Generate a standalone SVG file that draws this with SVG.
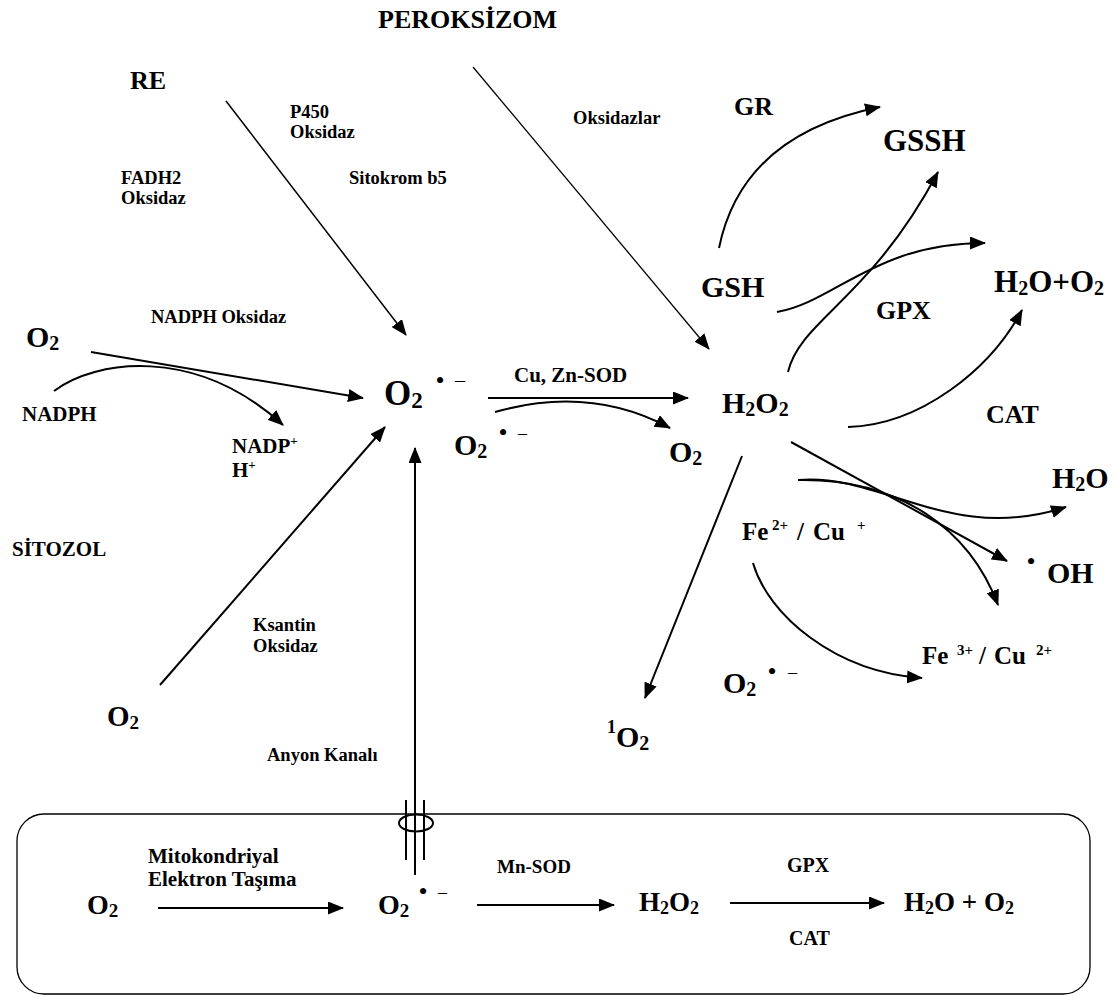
<svg xmlns="http://www.w3.org/2000/svg" width="1117" height="996" viewBox="0 0 1117 996">
<defs>
<style>
.t{font-family:"Liberation Serif","Times New Roman",serif;font-weight:bold;fill:#000}
.n{font-family:"Liberation Serif","Times New Roman",serif;font-weight:normal;fill:#000}
.d{font-family:"Liberation Serif","Times New Roman",serif;font-weight:normal;fill:#000;font-size:26px;text-anchor:middle}
.c{stroke:#000;fill:none;stroke-width:2}
.thin{stroke-width:1.5}
</style>
<marker id="ah" markerWidth="16" markerHeight="13" refX="15" refY="6.5" orient="auto" markerUnits="userSpaceOnUse"><path d="M0,0 L16,6.5 L0,13 z" fill="#000"/></marker>
</defs>
<rect width="1117" height="996" fill="#fff"/>

<g id="connectors">
<line class="c thin" x1="226" y1="101" x2="406" y2="335" marker-end="url(#ah)"/>
<line class="c" style="stroke-width:1.3" x1="473" y1="67" x2="709" y2="349" marker-end="url(#ah)"/>
<line class="c" x1="91" y1="352" x2="363" y2="398" marker-end="url(#ah)"/>
<path class="c" d="M54,391 C95,360 195,345 283,425" marker-end="url(#ah)"/>
<line class="c" x1="160" y1="685" x2="385" y2="427" marker-end="url(#ah)"/>
<line class="c" x1="415" y1="875" x2="415" y2="448" marker-end="url(#ah)"/>
<line class="c" x1="406" y1="800" x2="406" y2="860"/>
<line class="c" x1="424" y1="800" x2="424" y2="860"/>
<ellipse class="c" cx="416" cy="823" rx="17" ry="8.5"/>
<line class="c" x1="488" y1="398" x2="688" y2="398" marker-end="url(#ah)"/>
<path class="c" d="M495,412 Q590,385 670,428" marker-end="url(#ah)"/>
<path class="c" d="M719,248 C735,170 790,125 880,107" marker-end="url(#ah)"/>
<path class="c" d="M777,312 C835,302 875,243 985,243" marker-end="url(#ah)"/>
<path class="c" d="M788,372 C800,320 870,300 938,172" marker-end="url(#ah)"/>
<path class="c" d="M848,427 C920,425 990,370 1022,310" marker-end="url(#ah)"/>
<line class="c" x1="742" y1="456" x2="645" y2="698" marker-end="url(#ah)"/>
<line class="c" x1="791" y1="442" x2="1007" y2="561" marker-end="url(#ah)"/>
<path class="c" d="M798,480 C880,472 950,545 1066,507" marker-end="url(#ah)"/>
<path class="c" d="M798,480 C900,478 970,530 998,605" marker-end="url(#ah)"/>
<path class="c" d="M753,563 C768,615 835,672 922,678" marker-end="url(#ah)"/>
<rect class="c" style="stroke-width:1.3" x="17" y="814" width="1073" height="180" rx="27" ry="27"/>
<line class="c" x1="158" y1="908" x2="343" y2="908" marker-end="url(#ah)"/>
<line class="c" x1="477" y1="905" x2="614" y2="905" marker-end="url(#ah)"/>
<line class="c" x1="730" y1="903" x2="884" y2="903" marker-end="url(#ah)"/>
</g>

<g id="peroksizom"><text class="t" x="378" y="28" font-size="26">PEROKSİZOM</text></g>
<g id="re"><text class="t" x="130" y="89" font-size="26">RE</text></g>
<g id="p450"><text class="t" x="290" y="118" font-size="18.5">P450</text><text class="t" x="290" y="138" font-size="18.5">Oksidaz</text></g>
<g id="oksidazlar"><text class="t" x="573" y="124" font-size="18.5">Oksidazlar</text></g>
<g id="fadh2"><text class="t" x="121" y="184" font-size="18.5">FADH2</text><text class="t" x="121" y="204" font-size="18.5">Oksidaz</text></g>
<g id="sitokrom"><text class="t" x="349" y="184" font-size="18.5">Sitokrom b5</text></g>
<g id="nadph-oksidaz"><text class="t" x="151" y="323" font-size="18.5">NADPH Oksidaz</text></g>
<g id="o2-topleft"><text class="t" x="26" y="347" font-size="30">O<tspan font-size="20" dy="3">2</tspan></text></g>
<g id="nadph"><text class="t" x="22" y="421" font-size="21">NADPH</text></g>
<g id="nadp"><text class="t" x="232" y="453" font-size="21">NADP<tspan font-size="13" dy="-8">+</tspan></text><text class="t" x="232" y="477" font-size="21">H<tspan font-size="13" dy="-8">+</tspan></text></g>
<g id="superoxide-center"><text class="d" x="440" y="389">•</text><text class="t" x="384" y="405" font-size="35">O<tspan font-size="23" dy="3">2</tspan></text><text class="n" x="455" y="386.5" font-size="20">–</text></g>
<g id="superoxide-small"><text class="t" x="454" y="455" font-size="30">O<tspan font-size="20" dy="3">2</tspan></text><text class="d" x="503" y="441">•</text><text class="n" x="518" y="438.5" font-size="18">–</text></g>
<g id="cuzn-sod"><text class="t" x="514" y="382" font-size="21">Cu, Zn-SOD</text></g>
<g id="o2-sod"><text class="t" x="669" y="462" font-size="30">O<tspan font-size="20" dy="3">2</tspan></text></g>
<g id="h2o2-center"><text class="t" x="722" y="413" font-size="30">H<tspan font-size="20" dy="3">2</tspan><tspan dy="-3">O</tspan><tspan font-size="20" dy="3">2</tspan></text></g>
<g id="gr"><text class="t" x="734" y="115" font-size="26">GR</text></g>
<g id="gssh"><text class="t" x="883" y="151" font-size="31">GSSH</text></g>
<g id="gsh"><text class="t" x="701" y="297" font-size="30">GSH</text></g>
<g id="gpx-top"><text class="t" x="876" y="319" font-size="26">GPX</text></g>
<g id="h2o-o2-top"><text class="t" x="994" y="292" font-size="31">H<tspan font-size="20" dy="3">2</tspan><tspan dy="-3">O+O</tspan><tspan font-size="20" dy="3">2</tspan></text></g>
<g id="cat-top"><text class="t" x="986" y="423" font-size="26">CAT</text></g>
<g id="h2o-right"><text class="t" x="1052" y="488" font-size="30">H<tspan font-size="20" dy="3">2</tspan><tspan dy="-3">O</tspan></text></g>
<g id="oh"><text class="d" x="1031" y="570">•</text><text class="t" x="1047" y="583" font-size="30">OH</text></g>
<g id="fe2"><text class="t" font-size="25" y="540"><tspan x="742">Fe</tspan><tspan x="772" y="530" font-size="15">2+</tspan><tspan x="797" y="540">/</tspan><tspan x="813" y="540">Cu</tspan><tspan x="857" y="530" font-size="15">+</tspan></text></g>
<g id="fe3"><text class="t" font-size="25" y="664"><tspan x="922">Fe</tspan><tspan x="957" y="655" font-size="15">3+</tspan><tspan x="979" y="664">/</tspan><tspan x="994" y="664">Cu</tspan><tspan x="1036" y="655" font-size="15">2+</tspan></text></g>
<g id="superoxide-lower"><text class="t" x="723" y="693" font-size="30">O<tspan font-size="20" dy="3">2</tspan></text><text class="d" x="772" y="680">•</text><text class="n" x="788" y="677.5" font-size="18">–</text></g>
<g id="singlet-o2"><text class="t" x="607" y="747" font-size="30"><tspan font-size="18" dy="-14">1</tspan><tspan dy="14">O</tspan><tspan font-size="20" dy="3">2</tspan></text></g>
<g id="sitozol"><text class="t" x="12" y="556" font-size="21">SİTOZOL</text></g>
<g id="ksantin"><text class="t" x="253" y="631" font-size="18.5">Ksantin</text><text class="t" x="253" y="652" font-size="18.5">Oksidaz</text></g>
<g id="o2-lowerleft"><text class="t" x="107" y="726" font-size="29">O<tspan font-size="19" dy="3">2</tspan></text></g>
<g id="anyon"><text class="t" x="267" y="761" font-size="18.5">Anyon Kanalı</text></g>
<g id="mito-o2"><text class="t" x="87" y="914" font-size="28">O<tspan font-size="19" dy="3">2</tspan></text></g>
<g id="mito-label"><text class="t" x="148" y="863" font-size="21">Mitokondriyal</text><text class="t" x="148" y="886" font-size="21">Elektron Taşıma</text></g>
<g id="mito-superoxide"><text class="t" x="378" y="914" font-size="28">O<tspan font-size="19" dy="3">2</tspan></text><text class="d" x="423" y="899.5">•</text><text class="n" x="438" y="898" font-size="18">–</text></g>
<g id="mn-sod"><text class="t" x="497" y="873" font-size="19">Mn-SOD</text></g>
<g id="mito-h2o2"><text class="t" x="639" y="911" font-size="27">H<tspan font-size="18" dy="3">2</tspan><tspan dy="-3">O</tspan><tspan font-size="18" dy="3">2</tspan></text></g>
<g id="mito-gpx"><text class="t" x="787" y="872" font-size="20">GPX</text></g>
<g id="mito-cat"><text class="t" x="789" y="945" font-size="20">CAT</text></g>
<g id="mito-h2o-o2"><text class="t" x="904" y="911" font-size="27">H<tspan font-size="18" dy="3">2</tspan><tspan dy="-3">O + O</tspan><tspan font-size="18" dy="3">2</tspan></text></g>
</svg>
